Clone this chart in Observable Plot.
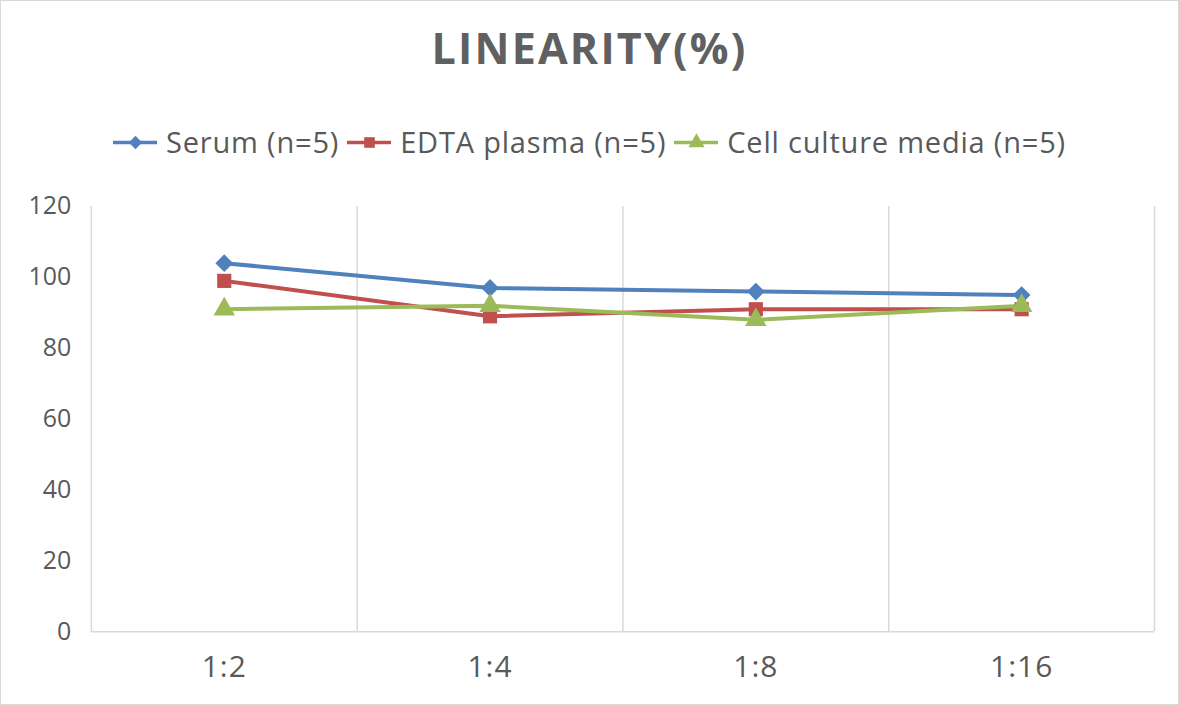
<!DOCTYPE html>
<html>
<head>
<meta charset="utf-8">
<script src="https://cdn.jsdelivr.net/npm/d3@7"></script>
<script src="https://cdn.jsdelivr.net/npm/@observablehq/plot@0.6"></script>
<style>
  html, body { margin: 0; padding: 0; background: #fff; }
  #frame { position: relative; width: 1177px; height: 703px; border: 1px solid #d9d9d9; overflow: hidden; font-family: "Open Sans", "Noto Sans", sans-serif; color: #595959; }
  #title { position: absolute; top: 16px; left: 0; width: 100%; text-align: center; font-size: 43px; font-weight: 700; letter-spacing: 2.2px; line-height: 62px; color: #606060; }
  #legend { position: absolute; top: 117px; left: 0; width: 100%; display: flex; justify-content: center; font-size: 29px; line-height: 48px; letter-spacing: 0.8px; }
  .item { display: flex; align-items: center; margin: 0 4px; }
  .item svg { margin-right: 9px; }
  #chart { position: absolute; top: 180px; left: 0; }
  #chart g[aria-label="x-axis tick label"] text { font-size: 30px; letter-spacing: 1px; }
</style>
</head>
<body>
<div id="frame">
  <div id="title">LINEARITY(%)</div>
  <div id="legend"></div>
  <div id="chart"></div>
</div>
<script>
const categories = ["1:2", "1:4", "1:8", "1:16"];
const serum = [104, 97, 96, 95];
const edta = [99, 89, 91, 91];
const cellCulture = [91, 92, 88, 92];
const seriesNames = ["Serum (n=5)", "EDTA plasma (n=5)", "Cell culture media (n=5)"];
const seriesValues = [serum, edta, cellCulture];
const seriesColors = ["#4F81BD", "#C0504D", "#9BBB59"];
const seriesSymbols = ["diamond2", "square", "triangle"];
const yTicks = [0, 20, 40, 60, 80, 100, 120];

const rows = [];
seriesNames.forEach((name, s) => {
  seriesValues[s].forEach((v, i) => rows.push({series: name, i, value: v}));
});
const boundaries = categories.map((c, i) => i + 0.5);

// legend
const legend = document.getElementById("legend");
seriesNames.forEach((name, s) => {
  const item = document.createElement("div");
  item.className = "item";
  const sw = Plot.plot({
    width: 44, height: 22, margin: 0,
    x: {domain: [0, 1], axis: null}, y: {domain: [0, 1], axis: null},
    marks: [
      Plot.ruleY([0.5], {x1: 0, x2: 1, stroke: seriesColors[s], strokeWidth: 3.5}),
      Plot.dot([{x: 0.5, y: 0.5}], {x: "x", y: "y", symbol: () => seriesSymbols[s], fill: seriesColors[s], r: 6})
    ],
    symbol: {type: "identity"}
  });
  item.appendChild(sw);
  const t = document.createElement("span");
  t.textContent = name;
  item.appendChild(t);
  legend.appendChild(item);
});

const chart = Plot.plot({
  width: 1179,
  height: 525,
  marginTop: 25,
  marginBottom: 74,
  marginLeft: 90,
  marginRight: 24,
  style: {fontFamily: "'Open Sans', 'Noto Sans', sans-serif", fontSize: "25px", color: "#595959", background: "transparent"},
  x: {domain: [-0.5, categories.length - 0.5], ticks: categories.map((c, i) => i), tickFormat: i => categories[i], tickSize: 0, tickPadding: 24, label: null},
  y: {domain: [0, 120], ticks: yTicks, tickSize: 0, tickPadding: 20, label: null},
  color: {domain: seriesNames, range: seriesColors},
  symbol: {domain: seriesNames, range: seriesSymbols},
  marks: [
    Plot.ruleX(boundaries, {y1: 0, y2: 120, stroke: "#d9d9d9", strokeWidth: 1.5}),
    Plot.ruleX([-0.5], {y1: 0, y2: 120, stroke: "#d9d9d9", strokeWidth: 1.5}),
    Plot.ruleY([0], {stroke: "#d9d9d9", strokeWidth: 1.5}),
    Plot.line(rows, {x: "i", y: "value", z: "series", stroke: "series", strokeWidth: 4}),
    Plot.dot(rows, {x: "i", y: "value", fill: "series", symbol: "series", r: 8})
  ]
});
document.getElementById("chart").appendChild(chart);
</script>
</body>
</html>
